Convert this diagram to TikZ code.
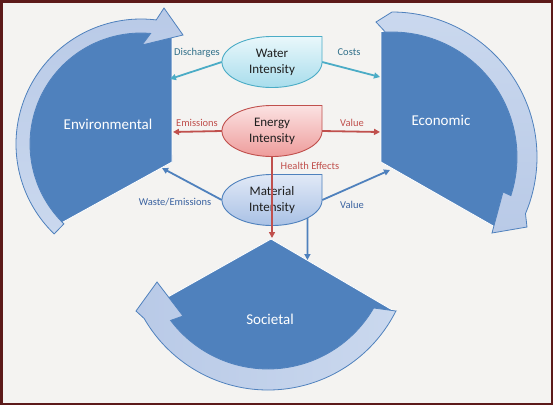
\documentclass[tikz,border=0pt]{standalone}
\usepackage{fontspec}
\setmainfont{Carlito}
\usetikzlibrary{arrows.meta,shapes.geometric}
\definecolor{bgc}{HTML}{F4F3F1}
\definecolor{framec}{HTML}{5C1A1A}
\definecolor{secblue}{HTML}{4F81BD}
\definecolor{bandD}{HTML}{B9CAE7}
\definecolor{bandM}{HTML}{CAD8EE}
\definecolor{bandL}{HTML}{E8EEF8}
\definecolor{wcol}{HTML}{4BACC6}
\definecolor{ecol}{HTML}{C0504D}
\definecolor{mcol}{HTML}{4F81BD}
\definecolor{wtxt}{HTML}{31708A}
\definecolor{mtxt}{HTML}{3A62A0}
\definecolor{wtop}{HTML}{E9F7FB}
\definecolor{wbot}{HTML}{A8DDEC}
\definecolor{etop}{HTML}{FBE2E2}
\definecolor{ebot}{HTML}{EE9C9B}
\definecolor{mtop}{HTML}{E1E9F6}
\definecolor{mbot}{HTML}{A9C1E5}
\definecolor{ntxt}{HTML}{1E1E1E}
\begin{document}
\begin{tikzpicture}[x=1pt,y=-1pt,
  earc/.style n args={6}{insert path={-- plot[domain=#5:#6,samples=90] ({#1+#3*cos(\x)},{#2+#4*sin(\x)})}},
  sector/.style={fill=secblue,draw=white,line width=0.8pt},
  band/.style={draw=secblue,line width=0.8pt},
  tear/.style={line width=0.9pt},
  mid/.style={shape=ellipse,minimum width=100pt,minimum height=51pt,inner sep=0pt,align=center,font=\fontsize{13}{16}\selectfont,text=ntxt},
  sectxt/.style={text=white,font=\fontsize{15}{18}\selectfont,inner sep=0pt},
  lbl/.style={font=\fontsize{10.5}{12}\selectfont,inner sep=0pt},
  conn/.style={line width=1.8pt,-{Triangle[length=6pt,width=6pt]}}
]
\fill[bgc] (0,0) rectangle (553,405);
\draw[framec,line width=2.5pt] (1.25,1.25) rectangle (551.75,403.75);
\path[use as bounding box] (0,0) rectangle (553,405);

% sectors
\path[sector] (172,162) -- (56,225.9) [earc={141}{144}{118}{118}{136.1}{285.2}] -- cycle;
\path[sector] (381,162) -- (496.3,227.7) [earc={392}{157}{126}{126}{34.1}{-95}] -- cycle;
\path[sector] (271,239) -- (392.8,310.3) [earc={268}{247}{140}{140}{26.9}{152.9}] -- cycle;

% curved arrows
\path[band,top color=bandD,middle color=bandL,bottom color=bandM]
  (54.2,233.9) [earc={141}{144}{125}{125}{134}{277}] -- (164,8) -- (183,35) -- (142,45)
  [earc={141}{144}{111}{111}{275}{134}] -- cycle;
\path[band,top color=bandM,middle color=bandL,bottom color=bandD]
  (376,22) [earc={392}{157}{145}{145}{-90}{23}] -- (527,227) -- (492,233) -- (503,192)
  [earc={392}{157}{125}{125}{18}{-93}] -- cycle;
\path[band,left color=bandD,middle color=bandL,right color=bandM]
  (395.9,311) [earc={268}{247}{143}{143}{26.6}{150}] -- (136,311) -- (157,282) -- (183,316)
  [earc={268}{247}{122}{122}{143}{30}] -- cycle;

% sector labels
\node[sectxt] (tenv) at (108,124) {Environmental};
\node[sectxt] (teco) at (441,120) {Economic};
\node[sectxt] (tsoc) at (270,319) {Societal};

% teardrop shapes
\path[tear,draw=wcol,top color=wtop,bottom color=wbot]
  (222,62) [earc={272}{62}{50}{25.5}{180}{0}] -- (322,36.5) -- (272,36.5) [earc={272}{62}{50}{25.5}{270}{180}] -- cycle;
\path[tear,draw=ecol,top color=etop,bottom color=ebot]
  (222,131) [earc={272}{131}{50}{25.5}{180}{0}] -- (322,105.5) -- (272,105.5) [earc={272}{131}{50}{25.5}{270}{180}] -- cycle;
\path[tear,draw=mcol,top color=mtop,bottom color=mbot]
  (222,200) [earc={272}{200}{50}{25.5}{180}{0}] -- (322,174.5) -- (272,174.5) [earc={272}{200}{50}{25.5}{270}{180}] -- cycle;

\node[mid] (water) at (272,62) {Water\\Intensity};
\node[mid] (energy) at (272,131) {Energy\\Intensity};
\node[mid] (material) at (272,200) {Material\\Intensity};

% targets
\coordinate (envW) at (170,79);
\coordinate (ecoW) at (380,77);
\coordinate (envE) at (173,132);
\coordinate (ecoE) at (380,132);
\coordinate (socE) at (272,238);
\coordinate (envM) at (162,168);
\coordinate (ecoM) at (390,170);
\coordinate (socM) at (307.4,260);

% connectors
\draw[conn,wcol] (water.west) -- (envW);
\draw[conn,wcol] (water.east) -- (ecoW);
\draw[conn,mcol] (material.west) -- (envM);
\draw[conn,mcol] (material.east) -- (ecoM);
\draw[conn,mcol] (material.south east) -- (socM);
\draw[conn,ecol] (energy.west) -- (envE);
\draw[conn,ecol] (energy.east) -- (ecoE);
\draw[conn,ecol] (energy.south) -- (socE);

% connector labels
\node[lbl,text=wtxt] (ldis) at (197,53) {Discharges};
\node[lbl,text=wtxt] (lcos) at (349,52) {Costs};
\node[lbl,text=ecol] (lemi) at (197,123) {Emissions};
\node[lbl,text=ecol] (lval1) at (352,123) {Value};
\node[lbl,text=ecol] (lhea) at (310,166) {Health Effects};
\node[lbl,text=mtxt] (lwas) at (175,202) {Waste/Emissions};
\node[lbl,text=mtxt] (lval2) at (352,205) {Value};
\end{tikzpicture}
\end{document}
